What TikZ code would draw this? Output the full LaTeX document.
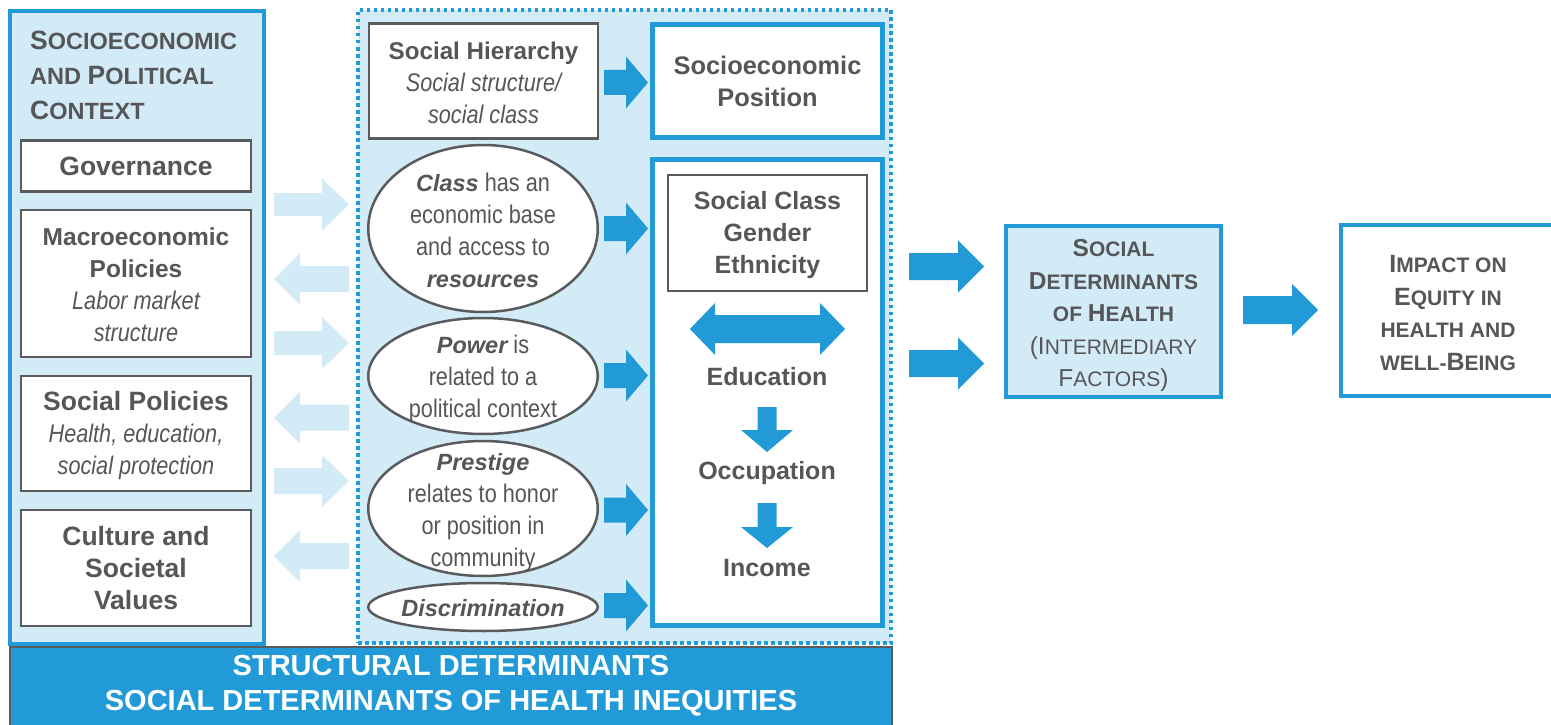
\documentclass[tikz,border=0pt]{standalone}
\usepackage{fontspec}
\setmainfont{Liberation Sans}
\newfontfamily\narfam[FakeStretch=0.85]{Liberation Sans}
\usetikzlibrary{shapes.geometric}
\definecolor{bl}{HTML}{219AD7}
\definecolor{lbl}{HTML}{D3EAF7}
\definecolor{tg}{HTML}{555658}
\definecolor{gline}{HTML}{5A5B5D}
\newcommand\sz[2]{\fontsize{#1}{#2}\selectfont}
\newcommand\fBold[1]{\rmfamily\bfseries\upshape\fontsize{#1}{32}\selectfont}
\newcommand\fNarI{\narfam\mdseries\itshape\fontsize{25.5}{32}\selectfont}
\newcommand\fNar{\narfam\mdseries\upshape\fontsize{25.5}{32}\selectfont}
\newcommand\fBI{\rmfamily\bfseries\itshape\fontsize{23.5}{32}\selectfont}
% block arrows: colour, tail x, tip x, y, shaft half height, head length
\newcommand\RArr[6]{\fill[#1] ({#2},{#4-#5}) -- ({#3-#6},{#4-#5}) -- ({#3-#6},{#4-26}) -- ({#3},{#4}) -- ({#3-#6},{#4+26}) -- ({#3-#6},{#4+#5}) -- ({#2},{#4+#5}) -- cycle;}
% colour, tip x, tail x, y, shaft half, head length
\newcommand\LArr[6]{\fill[#1] ({#3},{#4-#5}) -- ({#2+#6},{#4-#5}) -- ({#2+#6},{#4-26}) -- ({#2},{#4}) -- ({#2+#6},{#4+26}) -- ({#2+#6},{#4+#5}) -- ({#3},{#4+#5}) -- cycle;}
% colour, x centre, top y, tip y, shaft half, head length
\newcommand\DArr[6]{\fill[#1] ({#2-#5},{#3}) -- ({#2+#5},{#3}) -- ({#2+#5},{#4-#6}) -- ({#2+26},{#4-#6}) -- ({#2},{#4}) -- ({#2-26},{#4-#6}) -- ({#2-#5},{#4-#6}) -- cycle;}
\tikzset{
  gbox/.style={draw=gline, line width=2.5pt, fill=white, inner sep=0pt, align=center, text=tg},
  bbox/.style={draw=bl, line width=5pt, fill=white, inner sep=0pt, align=center, text=tg},
  ell/.style={ellipse, draw=gline, line width=2.5pt, fill=white, inner sep=0pt},
  txt/.style={inner sep=0pt, align=center, text=tg},
}
\begin{document}
\begin{tikzpicture}[x=1pt,y=-1pt]
\useasboundingbox (0,0) rectangle (1551,725);
% panels
\node[draw=bl, line width=4pt, fill=lbl, minimum width=254, minimum height=633, inner sep=0pt] (ctxpanel) at (137,327.5) {};
\node[draw=bl, fill=lbl, line width=3.5pt, dash pattern=on 3.5pt off 3.5pt, minimum width=533, minimum height=633, inner sep=0pt] (midpanel) at (624.5,326.5) {};
% left title
\node[anchor=west, inner sep=0pt, align=left, text=tg, font=\rmfamily\bfseries\sz{23.5}{35}] (ctxtitle) at (30,75)
 {\sz{26.5}{35}S\sz{23.5}{35}OCIOECONOMIC\\\sz{23.5}{35}AND \sz{26.5}{35}P\sz{23.5}{35}OLITICAL\\\sz{26.5}{35}C\sz{23.5}{35}ONTEXT};
% left boxes
\node[gbox, minimum width=230, minimum height=51, font=\fBold{26.5}] (gov) at (136,166) {Governance};
\node[gbox, minimum width=230, minimum height=147] (macro) at (136,283.5) {};
\node[txt, font=\fBold{24.5}] (macrotxt) at (136,285) {Macroeconomic\\Policies\\\fNarI Labor market\\\fNarI structure};
\node[gbox, minimum width=230, minimum height=115] (socpol) at (136,433.5) {};
\node[txt, font=\fBold{26.5}] (socpoltxt) at (136,435.5) {Social Policies\\\fNarI Health, education,\\\fNarI social protection};
\node[gbox, minimum width=230, minimum height=116, font=\fBold{26.5}] (culture) at (136,568) {Culture and\\Societal\\Values};
% light arrows between panels
\RArr{lbl}{274}{349}{204.5}{11.5}{27}
\LArr{lbl}{274}{349}{279}{13}{26}
\RArr{lbl}{274}{349}{343}{12}{27}
\LArr{lbl}{274}{349}{417.5}{13}{26}
\RArr{lbl}{274}{349}{481}{13}{27}
\LArr{lbl}{274}{349}{556}{13}{26}
% middle column
\node[gbox, minimum width=229, minimum height=115] (hier) at (483.5,81) {};
\node[txt, font=\fBold{24.2}] (hiertxt) at (483.5,83) {Social Hierarchy\\\fNarI Social structure/\\\fNarI social class};
\node[ell, minimum width=229.5, minimum height=167] (eclass) at (483,228.5) {};
\node[txt, font=\fNar] (tclass) at (483,230.5) {{\fBI Class} has an\\economic base\\and access to\\\fBI resources};
\node[ell, minimum width=229.5, minimum height=116] (epower) at (483,376) {};
\node[txt, font=\fNar] (tpower) at (483,379) {{\fBI Power} is\\related to a\\political context};
\node[ell, minimum width=229.5, minimum height=135] (eprest) at (483,508.5) {};
\node[txt, font=\fNar] (tprest) at (483,512.5) {\fBI Prestige\\relates to honor\\or position in\\community};
\node[ell, minimum width=229.5, minimum height=48] (edisc) at (483,607) {};
\node[txt, font=\fBI] (tdisc) at (483,608) {Discrimination};
% right column of middle panel
\node[bbox, minimum width=230, minimum height=113, font=\fBold{25.4}] (sep) at (767.5,81) {Socioeconomic\\Position};
\node[bbox, minimum width=230, minimum height=466] (strat) at (767.5,392.5) {};
\node[gbox, minimum width=199, minimum height=116] (scge) at (767.5,233) {};
\node[txt, font=\fBold{25}] (scgetxt) at (767.5,235) {Social Class\\Gender\\Ethnicity};
\fill[bl] (690,329) -- (715,303) -- (715,315) -- (820,315) -- (820,303) -- (845,329) -- (820,355) -- (820,343) -- (715,343) -- (715,355) -- cycle;
\node[txt, font=\fBold{25}] (edu) at (767,377) {Education};
\DArr{bl}{767}{407}{452}{9.5}{22}
\node[txt, font=\fBold{25}] (occ) at (767,473) {Occupation};
\DArr{bl}{767}{503}{548}{9.5}{21}
\node[txt, font=\fBold{25}] (inc) at (767,568) {Income};
% blue arrows middle
\RArr{bl}{604}{648}{82.5}{12.5}{22}
\RArr{bl}{604}{648}{228.5}{12.5}{22}
\RArr{bl}{604}{648}{375.5}{12.5}{22}
\RArr{bl}{604}{648}{510}{12.5}{22}
\RArr{bl}{604}{648}{605.5}{12.5}{22}
% arrows to SDH and impact
\RArr{bl}{909}{984}{266.5}{13.5}{26}
\RArr{bl}{909}{984}{363.5}{13.5}{26}
\RArr{bl}{1243}{1318}{310}{14}{26}
\node[draw=bl, line width=4.5pt, fill=lbl, minimum width=215, minimum height=171, inner sep=0pt] (sdh) at (1113.5,311.5) {};
\node[txt, font=\rmfamily\bfseries\sz{21}{32.5}] (sdhtxt) at (1113.5,315.5)
 {\sz{24.5}{32.5}S\sz{21}{32.5}OCIAL\\\sz{24.5}{32.5}D\sz{21}{32.5}ETERMINANTS\\\sz{21}{32.5}OF \sz{24.5}{32.5}H\sz{21}{32.5}EALTH\\\mdseries\sz{24.5}{32.5}(I\sz{21}{32.5}NTERMEDIARY\\\mdseries\sz{24.5}{32.5}F\sz{21}{32.5}ACTORS\sz{24.5}{32.5})};
\node[draw=bl, line width=4.5pt, fill=white, minimum width=214, minimum height=171, inner sep=0pt] (impact) at (1448,310.5) {};
\node[txt, font=\rmfamily\bfseries\sz{21}{33}] (impacttxt) at (1448,313)
 {\sz{25}{33}I\sz{21}{33}MPACT ON\\\sz{25}{33}E\sz{21}{33}QUITY IN\\\sz{21}{33}HEALTH AND\\\sz{21}{33}WELL-\sz{25}{33}B\sz{21}{33}EING};
% banner
\node[draw=gline, line width=2pt, fill=bl, minimum width=882, minimum height=100, inner sep=0pt] (banner) at (451,697) {};
\node[inner sep=0pt, align=center, text=white, font=\rmfamily\bfseries\sz{29}{35}] (bantxt) at (451,686) {STRUCTURAL DETERMINANTS\\SOCIAL DETERMINANTS OF HEALTH INEQUITIES};
\end{tikzpicture}
\end{document}
